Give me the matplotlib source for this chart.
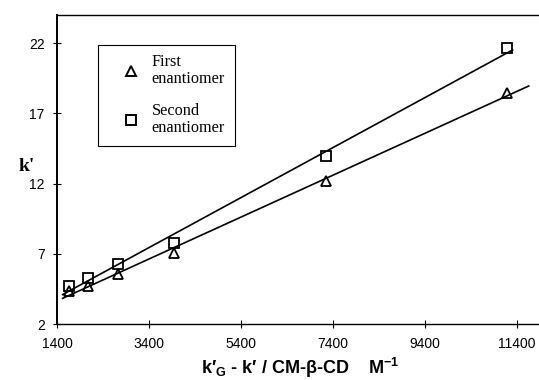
import numpy as np
import matplotlib
matplotlib.use('Agg')
import matplotlib.pyplot as plt
import matplotlib.lines as mlines

plt.rcParams['font.family'] = ['Liberation Sans', 'DejaVu Sans']
plt.rcParams['mathtext.fontset'] = 'custom'
plt.rcParams['mathtext.rm'] = 'Liberation Sans'
plt.rcParams['mathtext.bf'] = 'Liberation Sans:bold'

# data
conc = [1660, 2070, 2720, 3930, 7240, 11180]        # k'G - k' / CM-b-CD
k_first = [4.35, 4.75, 5.6, 7.05, 12.2, 18.45]       # triangles
k_second = [4.75, 5.3, 6.25, 7.8, 13.95, 21.65]      # squares

xticks = [1400, 3400, 5400, 7400, 9400, 11400]
yticks = [2, 7, 12, 17, 22]

fig = plt.figure(figsize=(5.39, 3.80), dpi=100)
ax = fig.add_axes([0.106, 0.147, 0.892, 0.813])

# regression lines
fit1 = np.polyfit(conc, k_first, 1)
fit2 = np.polyfit(conc, k_second, 1)
xr1 = np.array([1520, 11650])
xr2 = np.array([1520, 11300])
ax.plot(xr1, np.polyval(fit1, xr1), color='black', lw=1.2, zorder=1)
ax.plot(xr2, np.polyval(fit2, xr2), color='black', lw=1.2, zorder=1)

ax.plot(conc, k_first, linestyle='None', marker='^', markersize=7,
        markerfacecolor='none', markeredgecolor='black', markeredgewidth=1.3, zorder=2)
ax.plot(conc, k_second, linestyle='None', marker='s', markersize=7,
        markerfacecolor='none', markeredgecolor='black', markeredgewidth=1.3, zorder=2)

ax.set_xlim(1400, 11850)
ax.set_ylim(2, 24)
ax.set_xticks(xticks)
ax.set_yticks(yticks)
ax.tick_params(direction='inout', length=6, width=0.8, labelsize=10, pad=6)
ax.spines['right'].set_visible(False)
ax.spines['left'].set_linewidth(1.4)
ax.spines['bottom'].set_linewidth(1.0)
ax.spines['top'].set_linewidth(1.0)

# legend
tri = mlines.Line2D([], [], linestyle='None', marker='^', markersize=6.5,
                    markerfacecolor='none', markeredgecolor='black', markeredgewidth=1.4,
                    label='First\nenantiomer')
sq = mlines.Line2D([], [], linestyle='None', marker='s', markersize=7,
                   markerfacecolor='none', markeredgecolor='black', markeredgewidth=1.4,
                   label='Second\nenantiomer')
leg = ax.legend(handles=[tri, sq], loc='upper left', bbox_to_anchor=(0.085, 0.905),
                frameon=True, fancybox=False, edgecolor='black', framealpha=1,
                prop={'family': 'Liberation Serif', 'size': 11.7},
                handlelength=2.85, handletextpad=-0.15, borderpad=0.6,
                borderaxespad=0, labelspacing=0.95)
leg.get_frame().set_linewidth(0.8)
for t in leg.get_texts():
    t.set_linespacing(1.1)

fig.text(0.05, 0.563, "k'", fontsize=14, fontweight='bold',
         family='Liberation Serif', ha='center', va='center')
fig.text(0.557, 0.032, "k′$_{\\mathbf{G}}$ - k′ / CM-β-CD    M$^{\\mathbf{-1}}$",
         fontsize=13, fontweight='bold', ha='center', va='center')

fig.savefig('out.png', dpi=100)
